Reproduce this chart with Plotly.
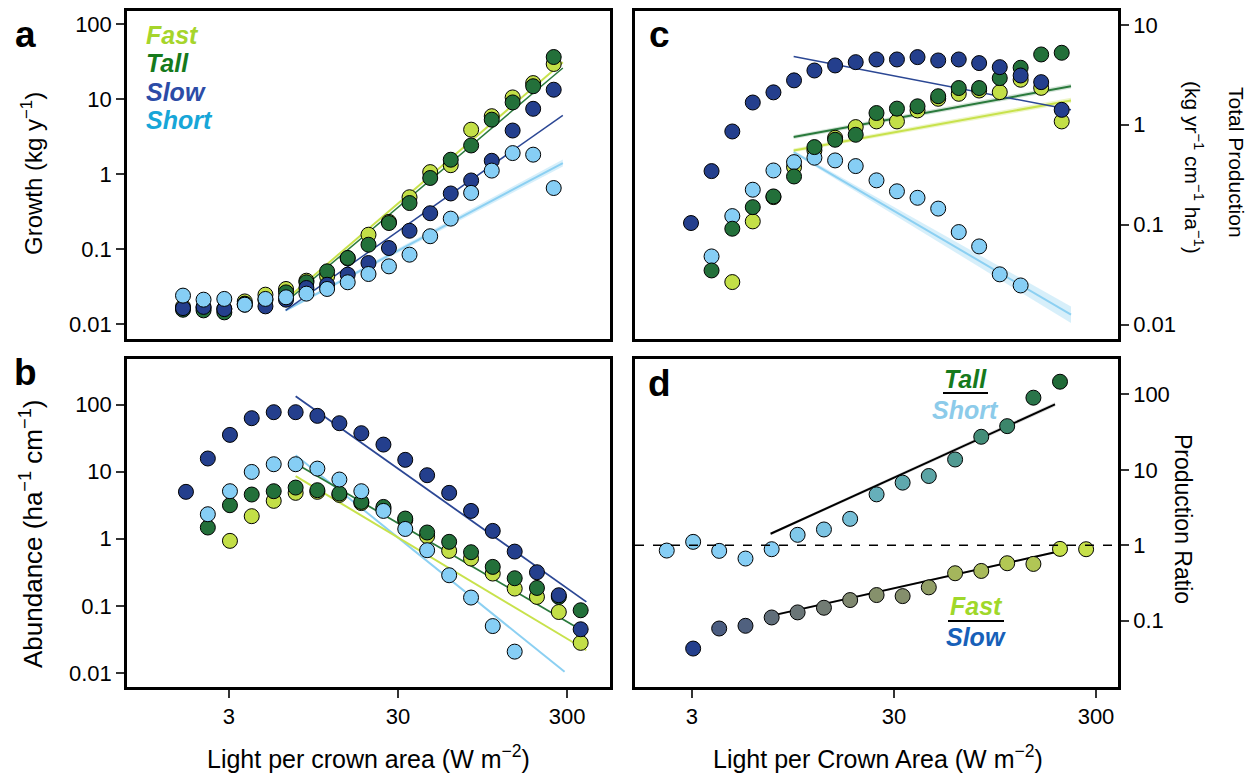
import numpy as np
import plotly.graph_objects as go

W, H = 1258, 776
FONT = "Liberation Sans, Arial, Helvetica, sans-serif"

# Light-per-crown-area bin centres (W m-2), shared by all four panels
light_bins = [1.67, 2.25, 3.04, 4.09, 5.52, 7.44, 10.0, 13.5, 18.2, 24.6,
              33.1, 44.6, 60.2, 81.1, 109, 147, 199, 268, 361]

# (a) growth, kg per year (bins 0-18)
growth_fast = [0.017, 0.0165, 0.016, 0.020, 0.0246, 0.0293, 0.0378, 0.0432, 0.075, 0.155,
               0.23, 0.49, 1.06, 1.31, 3.9, 5.9, 10.5, 16.3, 29.3]
growth_tall = [0.0155, 0.0152, 0.0143, 0.0187, 0.021, 0.0264, 0.036, 0.0504, 0.076, 0.114,
               0.222, 0.41, 0.885, 1.55, 2.4, 5.3, 9.0, 14.8, 36.3]
growth_slow = [0.0163, 0.0169, 0.0158, 0.0181, 0.0172, 0.0211, 0.0302, 0.0334, 0.0455, 0.065,
               0.103, 0.175, 0.30, 0.55, 0.82, 1.5, 3.8, 7.4, 13.3]
growth_short = [0.0239, 0.0211, 0.0216, 0.0181, 0.0216, 0.0227, 0.0254, 0.0293, 0.036, 0.0464,
                0.0587, 0.084, 0.148, 0.254, 0.56, 1.11, 1.9, 1.81, 0.65]

# (b) abundance, per ha per cm (first bin index given alongside)
abund_slow = [5.0, 15.7, 35.3, 62.6, 76.9, 76.9, 67.8, 52.7, 37.4, 25.3, 15.0, 8.85, 4.83,
              2.6, 1.31, 0.644, 0.317, 0.144, 0.0448]
abund_slow_start = 0
abund_short = [2.32, 5.11, 9.9, 12.9, 12.9, 11.1, 7.63, 5.11, 2.6, 1.40, 0.675, 0.286,
               0.133, 0.050, 0.0208]
abund_short_start = 1
abund_tall = [1.47, 3.16, 4.56, 5.11, 5.79, 5.29, 4.72, 3.54, 2.98, 2.0, 1.24, 0.90, 0.63,
              0.381, 0.258, 0.185, 0.136, 0.086]
abund_tall_start = 1
abund_fast = [0.93, 2.17, 3.67, 4.83, 5.0, 4.5, 3.4, 2.82, 1.89, 1.09, 0.66, 0.507, 0.303,
              0.181, 0.136, 0.081, 0.0281]
abund_fast_start = 2

# (c) total production, kg per yr per cm per ha
prod_slow = [0.104, 0.344, 0.857, 1.67, 2.11, 2.78, 3.49, 3.92, 4.23, 4.5, 4.5, 4.75, 4.4,
             4.5, 4.14, 3.77, 3.11, 2.67, 1.41]
prod_slow_start = 0
prod_short = [0.0482, 0.122, 0.224, 0.349, 0.423, 0.468, 0.44, 0.386, 0.278, 0.216, 0.186,
              0.145, 0.0845, 0.0607, 0.0319, 0.0247]
prod_short_start = 1
prod_tall = [0.0349, 0.0912, 0.150, 0.192, 0.304, 0.598, 0.708, 0.794, 1.31, 1.45, 1.53,
             1.93, 2.33, 2.33, 2.93, 3.72, 5.05, 5.25]
prod_tall_start = 1
prod_fast = [0.0267, 0.108, 0.189, 0.377, 0.554, 0.741, 0.948, 1.08, 1.08, 1.39, 1.82, 2.04,
             2.2, 2.12, 2.82, 2.34, 1.08]
prod_fast_start = 2

# (d) production ratios
ratio_tall_short = [0.851, 1.11, 0.843, 0.667, 0.887, 1.375, 1.62, 2.24, 4.73, 6.76, 8.28,
                    13.7, 27.4, 37.9, 90.3, 147]
ratio_tall_short_start = 1
ratio_fast_slow = [0.0428, 0.0789, 0.0857, 0.1105, 0.129, 0.1486, 0.188, 0.219, 0.212,
                   0.277, 0.426, 0.457, 0.578, 0.566, 0.896, 0.887]
ratio_fast_slow_start = 2

# Power-law fits: end points (x, y) and confidence limits where shown
fit_a_x = [7.4, 412]
fit_a_fast = [0.0211, 30.8]
fit_a_tall = [0.0195, 25.9]
fit_a_slow = [0.0152, 6.05]
fit_a_short = [0.0152, 1.40]
fit_a_short_lo = [0.0146, 1.26]
fit_a_short_hi = [0.0158, 1.56]

fit_b_x = [7.44, 390]
fit_b_short_x = [7.44, 290]
fit_b_slow = [133, 0.1146]
fit_b_short = [17.6, 0.0104]
fit_b_tall = [13.2, 0.0395]
fit_b_fast = [8.55, 0.0218]

fit_c_x = [7.4, 413]
fit_c_slow = [4.82, 1.41]
fit_c_tall = [0.753, 2.43]
fit_c_tall_lo = [0.72, 2.30]
fit_c_tall_hi = [0.79, 2.57]
fit_c_fast = [0.554, 1.75]
fit_c_fast_lo = [0.53, 1.65]
fit_c_fast_hi = [0.58, 1.86]
fit_c_short = [0.533, 0.0126]
fit_c_short_lo = [0.515, 0.0104]
fit_c_short_hi = [0.552, 0.0152]

fit_d_top_x = [7.35, 188]
fit_d_top = [1.42, 73.6]
fit_d_top_lo = [1.36, 69.0]
fit_d_top_hi = [1.48, 78.5]
fit_d_bot_x = [7.64, 188]
fit_d_bot = [0.1187, 0.809]
fit_d_bot_lo = [0.1150, 0.785]
fit_d_bot_hi = [0.1225, 0.834]

# Colours
C_FAST, C_TALL, C_SLOW, C_SHORT = "#C3DF47", "#23703A", "#243F8D", "#86CEF5"
L_FAST, L_TALL, L_SLOW, L_SHORT = "#C8E24C", "#2A7A3C", "#2B4794", "#8CD0F2"
T_FAST, T_TALL, T_SLOW, T_SHORT = "#A6D52B", "#167A1C", "#2C4CA7", "#17A6D8"


def px(x):
    return x / W


def py(y):
    return 1 - y / H


fig = go.Figure()


def bins_from(start, vals):
    return light_bins[start:start + len(vals)]


def add_points(xs, ys, color, xa, ya):
    fig.add_trace(go.Scatter(
        x=xs, y=ys, mode="markers", xaxis=xa, yaxis=ya, showlegend=False,
        hoverinfo="skip",
        marker=dict(size=15, color=color, line=dict(color="black", width=1))))


def add_fit(xs, ys, color, width, xa, ya, lo=None, hi=None, band=None):
    if lo is not None:
        fig.add_trace(go.Scatter(
            x=list(xs) + list(xs)[::-1], y=list(hi) + list(lo)[::-1],
            fill="toself", fillcolor=band, mode="lines", line=dict(width=0),
            xaxis=xa, yaxis=ya, showlegend=False, hoverinfo="skip"))
    fig.add_trace(go.Scatter(
        x=xs, y=ys, mode="lines", line=dict(color=color, width=width),
        xaxis=xa, yaxis=ya, showlegend=False, hoverinfo="skip"))


# ---- panel a: growth
add_fit(fit_a_x, fit_a_short, L_SHORT, 2, "x", "y", fit_a_short_lo, fit_a_short_hi,
        "rgba(140,208,242,0.35)")
add_fit(fit_a_x, fit_a_slow, L_SLOW, 1.5, "x", "y")
add_fit(fit_a_x, fit_a_fast, L_FAST, 2, "x", "y")
add_fit(fit_a_x, fit_a_tall, L_TALL, 1.5, "x", "y")
add_points(light_bins, growth_fast, C_FAST, "x", "y")
add_points(light_bins, growth_tall, C_TALL, "x", "y")
add_points(light_bins, growth_slow, C_SLOW, "x", "y")
add_points(light_bins, growth_short, C_SHORT, "x", "y")

# ---- panel b: abundance
add_fit(fit_b_x, fit_b_slow, L_SLOW, 1.8, "x2", "y2")
add_fit(fit_b_short_x, fit_b_short, L_SHORT, 2, "x2", "y2")
add_fit(fit_b_x, fit_b_tall, L_TALL, 1.8, "x2", "y2")
add_fit(fit_b_x, fit_b_fast, L_FAST, 2, "x2", "y2")
add_points(bins_from(abund_fast_start, abund_fast), abund_fast, C_FAST, "x2", "y2")
add_points(bins_from(abund_tall_start, abund_tall), abund_tall, C_TALL, "x2", "y2")
add_points(bins_from(abund_slow_start, abund_slow), abund_slow, C_SLOW, "x2", "y2")
add_points(bins_from(abund_short_start, abund_short), abund_short, C_SHORT, "x2", "y2")

# ---- panel c: total production
add_fit(fit_c_x, fit_c_short, L_SHORT, 2, "x3", "y3", fit_c_short_lo, fit_c_short_hi,
        "rgba(140,208,242,0.35)")
add_fit(fit_c_x, fit_c_fast, L_FAST, 2, "x3", "y3", fit_c_fast_lo, fit_c_fast_hi,
        "rgba(200,226,76,0.3)")
add_fit(fit_c_x, fit_c_tall, L_TALL, 2, "x3", "y3", fit_c_tall_lo, fit_c_tall_hi,
        "rgba(42,122,60,0.2)")
add_fit(fit_c_x, fit_c_slow, L_SLOW, 1.5, "x3", "y3")
add_points(bins_from(prod_fast_start, prod_fast), prod_fast, C_FAST, "x3", "y3")
add_points(bins_from(prod_short_start, prod_short), prod_short, C_SHORT, "x3", "y3")
add_points(bins_from(prod_tall_start, prod_tall), prod_tall, C_TALL, "x3", "y3")
add_points(bins_from(prod_slow_start, prod_slow), prod_slow, C_SLOW, "x3", "y3")

# ---- panel d: production ratios
add_fit(fit_d_top_x, fit_d_top, "black", 2, "x4", "y4", fit_d_top_lo, fit_d_top_hi,
        "rgba(0,0,0,0.15)")
add_fit(fit_d_bot_x, fit_d_bot, "black", 2, "x4", "y4", fit_d_bot_lo, fit_d_bot_hi,
        "rgba(0,0,0,0.15)")
fig.add_trace(go.Scatter(
    x=bins_from(ratio_tall_short_start, ratio_tall_short), y=ratio_tall_short,
    mode="markers", xaxis="x4", yaxis="y4", showlegend=False, hoverinfo="skip",
    marker=dict(size=15, color=np.log10(ratio_tall_short), cmin=0.0, cmax=2.2,
                colorscale=[[0, C_SHORT], [1, "#1F6A35"]], showscale=False,
                line=dict(color="black", width=1))))
fig.add_trace(go.Scatter(
    x=bins_from(ratio_fast_slow_start, ratio_fast_slow), y=ratio_fast_slow,
    mode="markers", xaxis="x4", yaxis="y4", showlegend=False, hoverinfo="skip",
    marker=dict(size=15, color=np.log10(ratio_fast_slow), cmin=-1.37, cmax=-0.05,
                colorscale=[[0, C_SLOW], [0.45, "#7A8272"], [1, "#C6E04A"]],
                showscale=False, line=dict(color="black", width=1))))

# ---- axes
dom_left = [px(127), px(610)]
dom_right = [px(635), px(1118)]
dom_top = [py(339), py(10.5)]
dom_bot = [py(687), py(358.5)]

base = dict(type="log", showline=True, linecolor="black", linewidth=2.5, mirror=True,
            showgrid=False, zeroline=False,
            tickfont=dict(family=FONT, size=22, color="black"),
            ticks="outside", ticklen=8, tickwidth=1.5, tickcolor="#333")
no_ticks = dict(ticks="", showticklabels=False)
xt = dict(tickvals=[3, 30, 300], ticktext=["3", "30", "300"])

fig.update_layout(
    xaxis=dict(base, domain=dom_left, range=[-0.130, 2.912], anchor="y", **no_ticks),
    xaxis2=dict(base, domain=dom_left, range=[-0.126, 2.731], anchor="y2", **xt),
    xaxis3=dict(base, domain=dom_right, range=[-0.130, 2.912], anchor="y3", **no_ticks),
    xaxis4=dict(base, domain=dom_right, range=[0.195, 2.586], anchor="y4", **xt),
    yaxis=dict(base, domain=dom_top, range=[-2.2, 2.18], anchor="x",
               tickvals=[0.01, 0.1, 1, 10, 100], ticktext=["0.01", "0.1", "1", "10", "100"]),
    yaxis2=dict(base, domain=dom_bot, range=[-2.209, 2.686], anchor="x2",
                tickvals=[0.01, 0.1, 1, 10, 100], ticktext=["0.01", "0.1", "1", "10", "100"]),
    yaxis3=dict(base, domain=dom_top, range=[-2.143, 1.143], anchor="x3", side="right",
                tickvals=[0.01, 0.1, 1, 10], ticktext=["0.01", "0.1", "1", "10"]),
    yaxis4=dict(base, domain=dom_bot, range=[-1.878, 2.475], anchor="x4", side="right",
                tickvals=[0.1, 1, 10, 100], ticktext=["0.1", "1", "10", "100"]),
    width=W, height=H, margin=dict(l=0, r=0, t=0, b=0),
    paper_bgcolor="white", plot_bgcolor="white",
    font=dict(family=FONT, color="black"),
)

# reference line at ratio 1
fig.add_shape(type="line", xref="x4 domain", yref="y4", x0=0, x1=1, y0=1, y1=1,
              line=dict(color="black", width=1.5, dash="dash"))

ann = []


def text(x, y, s, size, color="black", angle=0, xanchor="center", yanchor="middle"):
    ann.append(dict(x=px(x), y=py(y), xref="paper", yref="paper", text=s, showarrow=False,
                    font=dict(family=FONT, size=size, color=color), textangle=angle,
                    xanchor=xanchor, yanchor=yanchor))


# panel letters
text(26, 35, "<b>a</b>", 37)
text(26, 372, "<b>b</b>", 37)
text(659, 35, "<b>c</b>", 37)
text(659, 383, "<b>d</b>", 37)

# group labels in panel a
text(144, 35, "<b><i>Fast</i></b>", 25, T_FAST, xanchor="left")
text(144, 63, "<b><i>Tall</i></b>", 25, T_TALL, xanchor="left")
text(144, 92, "<b><i>Slow</i></b>", 25, T_SLOW, xanchor="left")
text(144, 120, "<b><i>Short</i></b>", 25, T_SHORT, xanchor="left")

# ratio labels in panel d
text(966, 379, "<b><i>Tall</i></b>", 25, T_TALL)
text(966, 410, "<b><i>Short</i></b>", 25, "#8CCBEA")
text(976, 606, "<b><i>Fast</i></b>", 25, "#9FD82A")
text(976, 637, "<b><i>Slow</i></b>", 25, "#1760B8")
fig.add_shape(type="line", xref="paper", yref="paper", x0=px(943), x1=px(988),
              y0=py(393), y1=py(393), line=dict(color="black", width=2))
fig.add_shape(type="line", xref="paper", yref="paper", x0=px(948), x1=px(1004),
              y0=py(621), y1=py(621), line=dict(color="black", width=2))

# axis titles
text(32, 174, "Growth (kg y<sup>−1</sup>)", 24, angle=-90)
text(31, 534, "Abundance (ha<sup>−1</sup> cm<sup>−1</sup>)", 26, angle=-90)
text(1237, 162, "Total Production", 21, angle=90)
text(1194, 167, "(kg yr<sup>−1</sup> cm<sup>−1</sup> ha<sup>−1</sup>)", 21, angle=90)
text(1183, 519, "Production Ratio", 23, angle=90)
text(368, 757, "Light per crown area (W m<sup>−2</sup>)", 25)
text(878, 757, "Light per Crown Area (W m<sup>−2</sup>)", 25)

fig.update_layout(annotations=ann)

fig.write_html("out.html")
